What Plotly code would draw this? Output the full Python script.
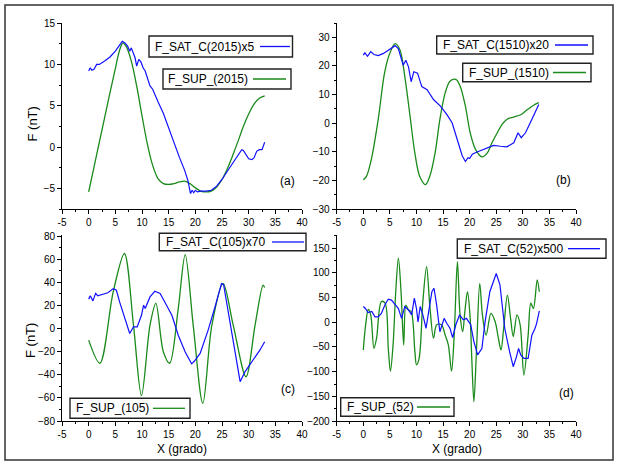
import plotly.graph_objects as go

W, H = 618, 464

# ---------------- data ----------------
a_sat_x = [0,0.3,0.6,1,1.5,2,3,4,5,5.5,6,6.3,6.8,7.3,7.7,8,8.3,8.7,9,9.4,9.8,10.2,10.6,11,11.5,12,12.5,13,14,15,16,17,18,18.6,19.1,19.4,19.7,20,20.4,21,22,23,24,25,26,27,28,28.7,29,29.5,30,30.6,31,31.5,32,32.5,33]
a_sat_y = [9.2,9.6,9.3,9.4,10.0,10.0,10.4,10.9,11.6,12.0,12.5,12.8,12.6,12.2,11.6,12.0,11.4,10.8,9.8,10.6,10.3,9.6,9.2,8.3,7.4,7.0,6.2,5.5,4.1,2.3,0.4,-1.2,-2.8,-4.0,-5.6,-5.2,-5.5,-5.2,-5.4,-5.3,-5.3,-5.2,-4.7,-3.9,-2.9,-1.9,-0.9,-0.3,-0.4,-0.9,-1.4,-1.5,-1.3,-0.5,-0.3,-0.3,0.6]
a_sup_x = [0,1,2,3,4,5,5.5,6,6.4,7,8,9,10,11,12,13,14,15,16,17,18,19,20,21,22,23,24,25,26,27,28,29,30,31,32,33]
a_sup_y = [-5.4,-2.4,0.6,3.6,6.6,9.5,11.0,12.1,12.6,12.2,10.4,7.4,3.8,0.4,-2.2,-3.8,-4.4,-4.5,-4.4,-4.2,-4.1,-4.4,-4.9,-5.3,-5.4,-5.3,-4.8,-3.9,-2.6,-1.0,0.7,2.5,4.0,5.2,5.9,6.2]

b_sat_x = [0,0.3,0.8,1.4,2,2.8,3.8,5,6,6.6,7.5,8,8.5,9,9.5,10.2,11,12,13.2,14.5,15.7,16.7,17.3,18,18.6,19.2,19.7,20,20.5,21.4,23.3,24.5,25.8,27,28.3,29.1,29.7,30.5,31.4,32.3,33]
b_sat_y = [23.8,24.6,23.4,25,24,23.6,24.4,26,27.1,26,20.3,22,19.7,14.5,18,17.5,12.8,11.7,8.3,6,3.1,0.2,-3.3,-7.9,-11.3,-13.3,-12,-12.3,-10.8,-10,-8.5,-7.7,-8,-8.2,-6.8,-3.3,-5,-3.3,0.2,3.7,6.6]
b_sup_x = [0,0.6,1.5,2.8,4,5,6,6.9,7.8,8.8,9.7,10.6,11.7,12.5,13.5,14.4,15.4,16.3,17.4,18.2,19.2,20.1,21.1,22.3,23.3,24.2,25.2,26.1,27.1,28.3,29.6,30.8,32.1,33]
b_sup_y = [-19.7,-18.5,-12.7,1.3,17.6,24.5,27.8,25.6,16.4,2.4,-10.4,-18.5,-21.4,-18.5,-10.4,1.3,10.6,14.7,15.3,13,6,-3.3,-9.1,-11.7,-10.4,-6.8,-3.3,-0.4,1.5,2.2,3,4.7,6.4,7.2]

c_sat_x = [0,0.3,0.8,1.3,1.7,2.7,3.6,4.6,5.2,5.8,6.8,7.7,8.4,9.1,9.9,10.3,10.6,11.5,12.4,13.4,14.6,15.6,16.8,18.1,19.3,19.8,20.9,22.4,23.7,24.9,25.3,26.8,27.9,28.4,29.3,30.6,32.1,33]
c_sat_y = [25.5,28.4,24,30.5,28.4,29.6,31,34.6,33.2,23.1,8.7,-4.3,1.4,1.4,11.5,20.2,17.3,27.4,32.3,30.3,20.2,11.5,-5.8,-20.2,-30.5,-28.3,-21.5,-1.3,18.9,39,38,-1.3,-31.7,-46,-37.4,-28.7,-18.7,-11.4]
c_sup_x = [0,2.1,4.6,6.7,8.4,9.9,11.5,12.6,14,15.2,16.8,18.1,19.6,21.4,23.1,25.2,27.1,29.5,31.2,32.7,33]
c_sup_y = [-10,-30,31.8,65,3,-58,3,21.8,-20,-30,17.5,64,3,-64.7,3,39,3,-41.7,3,37.6,35.6]

d_sat_x = [0,0.4,0.9,1.6,2.2,2.8,3.4,4.1,4.7,5.3,6.0,6.6,7.2,7.8,8.5,9.1,9.6,10.0,10.3,10.7,11.2,11.8,12.2,12.9,13.3,13.8,14.4,15.2,15.7,16.3,16.8,17.4,18.1,18.8,19.4,20.2,20.8,21.5,22.3,22.9,23.8,25.0,25.7,26.6,27.5,28.2,28.8,29.2,29.6,30.2,31.0,31.7,32.3,32.6,33.1]
d_sat_y = [32,28,20,22,11,11,18,36,47,45,36,28,8,32,25,15,49,28,1,32,15,-12,15,62,69,35,-19,8,-2,-12,-31,-5,15,5,8,-5,-39,-66,-53,1,62,99,76,-12,-59,-90,-70,-53,-66,-73,-73,-26,-12,-2,23]
d_sup_x = [0,0.44,0.94,1.4,2.0,2.5,3.4,4.1,4.7,5.1,5.6,6.1,6.6,7.1,7.6,8.0,8.5,9.0,9.7,10.0,10.5,11.2,11.9,12.5,13.2,13.8,14.7,15.4,16.0,16.6,17.1,17.7,18.2,18.7,19.1,19.6,20.1,20.4,20.8,21.3,21.9,22.4,23.1,24.0,24.8,25.4,25.9,26.4,27.1,27.7,28.2,28.9,29.5,30.2,31.0,31.5,32.0,32.7,33.1]
d_sup_y = [-56,-5,26,15,-53,-32,42,39,-53,-99,-46,62,130,62,-46,35,25,22,-59,-86,-73,42,113,35,-32,-5,-5,-26,-46,-99,-26,123,15,-19,22,62,8,-73,-161,-53,79,15,-26,18,1,-32,-56,-12,55,8,-29,15,-5,-107,-26,39,28,86,62]

panels = [
    ("a", a_sat_x, a_sat_y, a_sup_x, a_sup_y, "F_SAT_C(2015)x5", "F_SUP_(2015)"),
    ("b", b_sat_x, b_sat_y, b_sup_x, b_sup_y, "F_SAT_C(1510)x20", "F_SUP_(1510)"),
    ("c", c_sat_x, c_sat_y, c_sup_x, c_sup_y, "F_SAT_C(105)x70", "F_SUP_(105)"),
    ("d", d_sat_x, d_sat_y, d_sup_x, d_sup_y, "F_SAT_C(52)x500", "F_SUP_(52)"),
]
x_ticks = [-5, 0, 5, 10, 15, 20, 25, 30, 35, 40]

# ---------------- layout helpers ----------------
BLUE = "#1010ff"
GREEN = "#1a8a1a"
FONT = "Liberation Sans, Arial, sans-serif"

def px(x):
    return x / W

def py(y):
    return 1 - y / H

# pixel geometry of each plot area: (left, right, top, bottom)
geom = {
    "a": (62, 302, 23, 209.3),
    "b": (336.7, 576, 23, 209.3),
    "c": (62, 302, 235, 421),
    "d": (336.7, 576, 235, 421),
}
yranges = {"a": [-7.5, 15], "b": [-30, 35], "c": [-80, 81], "d": [-200, 177]}
ydticks = {"a": 5, "b": 10, "c": 20, "d": 50}

fig = go.Figure()
layout = dict(
    template="none",
    width=W, height=H,
    margin=dict(l=0, r=0, t=0, b=0, autoexpand=False),
    paper_bgcolor="white", plot_bgcolor="white",
    showlegend=False,
    font=dict(family=FONT, color="black", size=10),
)

for i, (key, sx, sy, gx, gy, sname, gname) in enumerate(panels):
    n = "" if i == 0 else str(i + 1)
    xa, ya = "x" + n, "y" + n
    fig.add_trace(go.Scatter(x=gx, y=gy, mode="lines", name=gname, xaxis=xa, yaxis=ya,
                             line=dict(color=GREEN, width=1.3, shape="spline", smoothing=0.9)))
    fig.add_trace(go.Scatter(x=sx, y=sy, mode="lines", name=sname, xaxis=xa, yaxis=ya,
                             line=dict(color=BLUE, width=1.2)))
    l, r, t, b = geom[key]
    common = dict(showline=True, linecolor="black", linewidth=1, showgrid=False, zeroline=False,
                  automargin=False,
                  ticks="outside", ticklen=4, tickwidth=1, tickcolor="black",
                  tickfont=dict(family=FONT, size=10, color="black"))
    layout["xaxis" + n] = dict(domain=[px(l), px(r)], anchor=ya, range=[-5, 40],
                               tickvals=x_ticks, ticktext=[str(v) for v in x_ticks],
                               minor=dict(ticks="outside", ticklen=2, dtick=2.5, tick0=-5, tickcolor="black"),
                               **common)
    d = ydticks[key]
    layout["yaxis" + n] = dict(domain=[py(b), py(t)], anchor=xa, range=yranges[key],
                               dtick=d, tick0=0,
                               minor=dict(ticks="outside", ticklen=2, dtick=d / 2, tick0=0, tickcolor="black"),
                               **common)

fig.update_layout(**layout)

shapes = []
annots = []
# outer frame
shapes.append(dict(type="rect", xref="paper", yref="paper", x0=px(5), x1=px(613), y0=py(460), y1=py(5),
                   line=dict(color="#333333", width=1.5), layer="below"))

# legend boxes: (x0, x1, y0, y1, text_x, line_x0, line_x1, text, color)
legend_boxes = [
    (149, 292.5, 36, 57, 153, 260, 290, panels[0][5], BLUE),
    (163, 291, 69, 89, 166, 253, 286, panels[0][6], GREEN),
    (436.7, 593, 36, 54, 441, 555, 588, panels[1][5], BLUE),
    (462.7, 591, 63.3, 81.7, 467, 553, 586, panels[1][6], GREEN),
    (159.3, 306, 233.3, 250.7, 164, 272, 304, panels[2][5], BLUE),
    (70, 190, 398.3, 418.3, 74, 153, 185, panels[2][6], GREEN),
    (457.3, 606, 239, 258.3, 462, 568, 600, panels[3][5], BLUE),
    (340.7, 454, 397.7, 416.3, 345, 417, 450, panels[3][6], GREEN),
]
for (x0, x1, y0, y1, tx, lx0, lx1, txt, col) in legend_boxes:
    shapes.append(dict(type="rect", xref="paper", yref="paper", x0=px(x0), x1=px(x1), y0=py(y1), y1=py(y0),
                       line=dict(color="#222222", width=1.4), fillcolor="white", layer="above"))
    ym = (y0 + y1) / 2
    shapes.append(dict(type="line", xref="paper", yref="paper", x0=px(lx0), x1=px(lx1), y0=py(ym), y1=py(ym),
                       line=dict(color=col, width=1.3), layer="above"))
    annots.append(dict(text=txt, xref="paper", yref="paper", x=px(tx), y=py(ym), xanchor="left",
                       yanchor="middle", showarrow=False, font=dict(family=FONT, size=12, color="black")))

# panel labels
for lab, (x, y) in zip(["(a)", "(b)", "(c)", "(d)"], [(287.5, 181), (563.5, 179.5), (287.5, 388.5), (566, 393)]):
    annots.append(dict(text=lab, xref="paper", yref="paper", x=px(x), y=py(y), xanchor="center",
                       yanchor="middle", showarrow=False, font=dict(family=FONT, size=12, color="black")))

# axis titles
for (x, y) in [(32.5, 124), (30, 341)]:
    annots.append(dict(text="F (nT)", xref="paper", yref="paper", x=px(x), y=py(y), xanchor="center",
                       yanchor="middle", textangle=-90, showarrow=False,
                       font=dict(family=FONT, size=13, color="black")))
for (x, y) in [(182, 449), (456.5, 449)]:
    annots.append(dict(text="X (grado)", xref="paper", yref="paper", x=px(x), y=py(y), xanchor="center",
                       yanchor="middle", showarrow=False, font=dict(family=FONT, size=12, color="black")))

fig.update_layout(shapes=shapes, annotations=annots)
fig.write_html("out.html",
               config={"displayModeBar": False},
               post_script="document.body.style.margin='0';document.body.style.overflow='hidden';")
